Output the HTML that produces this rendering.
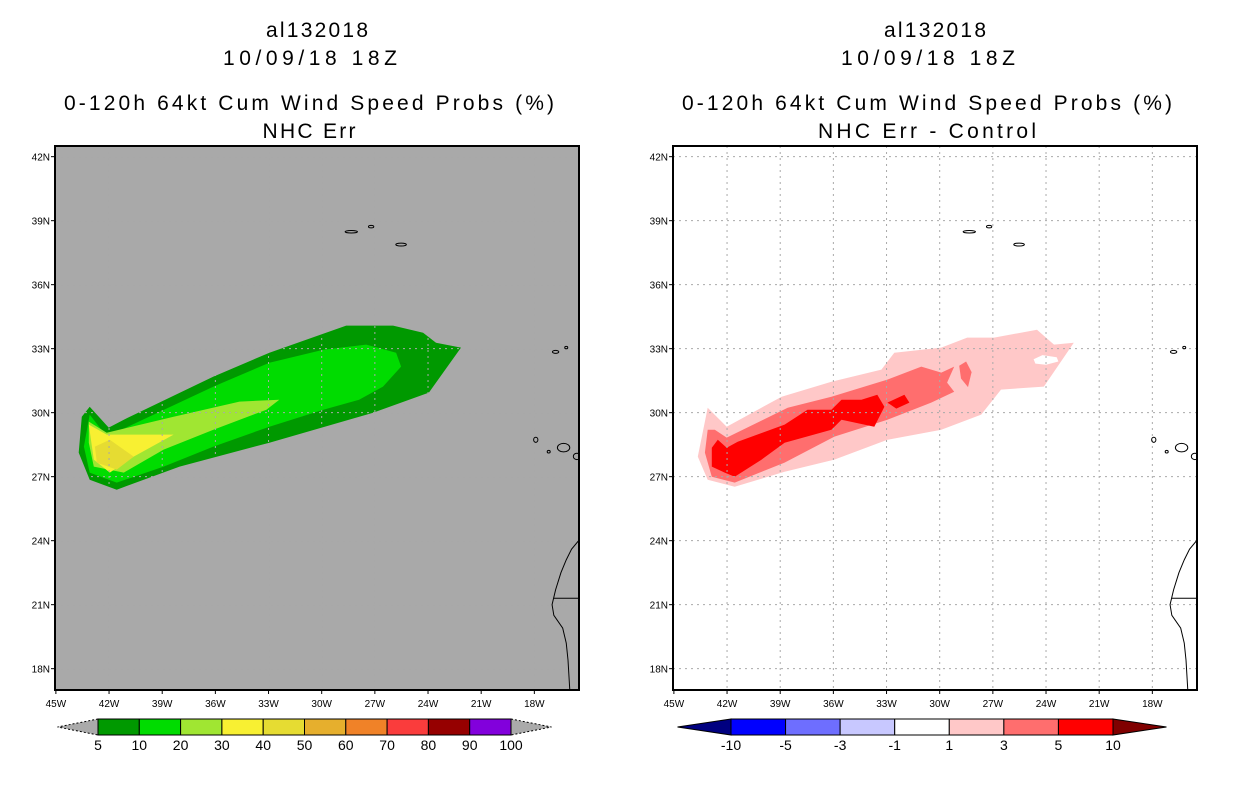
<!DOCTYPE html>
<html><head><meta charset="utf-8"><style>
body{margin:0;background:#fff}
svg{display:block}
text{font-family:"Liberation Sans",sans-serif}
</style></head><body>
<svg id="s" width="1236" height="800" viewBox="0 0 1236 800">
<g font-size="21" text-anchor="middle" fill="#000">
<text x="317" y="37" textLength="102" lengthAdjust="spacing">al132018</text>
<text x="310" y="65" textLength="174" lengthAdjust="spacing">10/09/18 18Z</text>
<text x="309" y="110" textLength="490" lengthAdjust="spacing">0-120h 64kt Cum Wind Speed Probs (%)</text>
<text x="309" y="138" textLength="93" lengthAdjust="spacing">NHC Err</text>
</g>
<g font-size="21" text-anchor="middle" fill="#000">
<text x="935" y="37" textLength="102" lengthAdjust="spacing">al132018</text>
<text x="928" y="65" textLength="174" lengthAdjust="spacing">10/09/18 18Z</text>
<text x="927" y="110" textLength="490" lengthAdjust="spacing">0-120h 64kt Cum Wind Speed Probs (%)</text>
<text x="927" y="138" textLength="218" lengthAdjust="spacing">NHC Err - Control</text>
</g>
</svg>
<script>
// axis ticks
const lonTicks=[-45,-42,-39,-36,-33,-30,-27,-24,-21,-18];
const latTicks=[42,39,36,33,30,27,24,21,18];
const lonLabels=["45W","42W","39W","36W","33W","30W","27W","24W","21W","18W"];
const latLabels=["42N","39N","36N","33N","30N","27N","24N","21N","18N"];
// left contours (lon,lat)
const p5=[[-43.09,30.28],[-42.02,29.30],[-41.17,29.67],[-36.11,31.69],[-32.95,32.81],[-28.62,34.08],[-25.97,34.08],[-24.28,33.75],[-23.55,33.28],[-22.14,33.05],[-23.95,30.94],[-27.10,30.0],[-32.95,28.59],[-38.02,27.47],[-41.57,26.39],[-43.09,26.86],[-43.71,28.13],[-43.54,29.81]];
const p10=[[-43.09,29.91],[-42.13,28.88],[-36.11,31.22],[-32.95,32.34],[-29.91,32.95],[-27.49,33.19],[-25.80,32.81],[-25.52,32.16],[-26.54,31.22],[-27.89,30.61],[-29.91,30.14],[-32.95,29.34],[-36.11,28.41],[-38.92,27.47],[-41.57,26.72],[-43.09,27.19],[-43.42,28.41]];
const p20=[[-43.14,29.58],[-42.13,29.06],[-38.36,29.81],[-34.64,30.52],[-32.39,30.61],[-33.12,30.14],[-36.11,29.20],[-38.92,28.27],[-41.17,27.19],[-42.86,27.47],[-43.14,28.59]];
const p30=[[-43.14,29.44],[-42.13,28.97],[-38.36,28.97],[-40.61,27.94],[-41.96,27.19],[-42.86,27.80]];
const p40=[[-42.80,28.41],[-41.96,28.73],[-40.61,27.94],[-41.57,27.33],[-42.69,27.66]];
// right difference contours
const d1=[[-43.65,27.94],[-43.09,30.23],[-42.02,29.34],[-38.92,30.75],[-36.11,31.45],[-33.29,32.02],[-32.56,32.81],[-29.91,33.05],[-28.45,33.52],[-26.93,33.52],[-24.51,33.89],[-23.55,33.19],[-22.43,33.28],[-24.12,31.22],[-26.54,31.08],[-27.66,29.91],[-29.91,29.20],[-32.95,28.73],[-35.94,27.80],[-38.75,27.23],[-41.57,26.53],[-43.09,26.86]];
const d3=[[-43.25,28.13],[-43.09,29.20],[-42.69,29.20],[-42.02,28.83],[-38.58,30.23],[-36.11,30.75],[-32.95,31.55],[-31.04,32.16],[-29.91,31.88],[-29.18,32.16],[-29.58,31.41],[-29.18,30.98],[-30.48,30.47],[-32.95,29.67],[-35.94,28.88],[-38.75,27.66],[-41.57,26.72],[-42.86,27.0]];
const d10=[[-42.86,27.47],[-42.86,28.36],[-42.52,28.73],[-42.02,28.36],[-41.40,28.64],[-38.75,29.44],[-37.46,30.14],[-36.11,30.14],[-35.54,30.61],[-34.42,30.61],[-33.52,30.84],[-33.12,30.28],[-33.69,29.34],[-35.54,29.67],[-36.11,29.20],[-38.75,28.59],[-40.05,27.80],[-41.57,27.0],[-42.13,27.19]];
const d10b=[[-32.95,30.47],[-31.99,30.84],[-31.71,30.47],[-32.45,30.19]];
const d3blob=[[-28.51,32.4],[-28.2,31.9],[-28.4,31.2],[-28.8,31.6],[-28.9,32.2]];
const d1hole=[[-24.7,32.5],[-24.2,32.7],[-23.4,32.6],[-23.3,32.4],[-24.0,32.25],[-24.6,32.3]];
// coastlines
const africa=[[-15.3,24.1],[-15.5,24.0],[-15.9,23.6],[-16.2,23.1],[-16.5,22.5],[-16.8,21.7],[-17.0,21.0],[-16.9,20.5],[-16.4,19.9],[-16.2,19.2],[-16.1,18.4],[-16.0,17.0]];
const border=[[-16.9,21.3],[-15.3,21.3]];
const islands=[[-28.33,38.48,0.35,0.06],[-27.21,38.72,0.15,0.06],[-25.52,37.88,0.3,0.07],[-17.92,28.73,0.12,0.12],[-17.19,28.17,0.08,0.06],[-16.35,28.36,0.35,0.2],[-15.6,27.95,0.2,0.15],[-16.8,32.85,0.18,0.07],[-16.2,33.05,0.03,0.03]];
const leftLevels=["5","10","20","30","40","50","60","70","80","90","100"];
const leftColors=["#009900","#00dc00","#a0e632","#f8f032","#e6dc32","#e6af2d","#f08228","#fa3c3c","#960000","#8200dc"];
const rightLevels=["-10","-5","-3","-1","1","3","5","10"];
const rightColors=["#0000ff","#6e6eff","#c8c8ff","#ffffff","#ffc8c8","#ff6e6e","#ff0000"];

const NS="http://www.w3.org/2000/svg";
const svg=document.getElementById('s');
function mk(tag,attrs,parent){const e=document.createElementNS(NS,tag);for(const k in attrs)e.setAttribute(k,attrs[k]);(parent||svg).appendChild(e);return e;}
function panel(x0,name){
  const W=524,H=544,y0=146;
  const lonMin=-45.05,lonMax=-15.48,latMax=42.5,latMin=17.0;
  const X=l=>x0+(l-lonMin)/(lonMax-lonMin)*W;
  const Y=l=>y0+(latMax-l)/(latMax-latMin)*H;
  const g=mk('g',{});
  
  
  const cp=mk('clipPath',{id:name+'c'},g);mk('rect',{x:x0,y:y0,width:W,height:H},cp);
  const inner=mk('g',{'clip-path':'url(#'+name+'c)'},g);
  const poly=(pts,fill,nm)=>{const p=mk('polygon',{points:pts.map(q=>X(q[0]).toFixed(1)+','+Y(q[1]).toFixed(1)).join(' '),fill:fill},inner);return p;};
  return {g,inner,X,Y,poly,x0,y0,W,H};
}
function grid(P,color){
  const gr=mk('g',{stroke:color,'stroke-width':1,'stroke-dasharray':'2,4'},P.inner);
  
  
  lonTicks.slice(1).forEach(l=>mk('line',{x1:P.X(l),x2:P.X(l),y1:P.y0,y2:P.y0+P.H},gr));
  latTicks.forEach(l=>mk('line',{y1:P.Y(l),y2:P.Y(l),x1:P.x0,x2:P.x0+P.W},gr));
}
function coast(P){
  const c=mk('g',{fill:'none',stroke:'#000','stroke-width':1},P.inner);
  
  
  mk('polyline',{points:africa.map(q=>P.X(q[0])+','+P.Y(q[1])).join(' ')},c);
  mk('polyline',{points:border.map(q=>P.X(q[0])+','+P.Y(q[1])).join(' ')},c);
  islands.forEach(i=>{mk('ellipse',{cx:P.X(i[0]),cy:P.Y(i[1]),rx:Math.max(1.5,i[2]*17.7),ry:Math.max(1.2,i[3]*21.3)},c);});
}
function axes(P){
  mk('rect',{x:P.x0,y:P.y0,width:P.W,height:P.H,fill:'none',stroke:'#000','stroke-width':2},P.g);
  lonTicks.forEach((l,i)=>{const x=P.X(l);mk('line',{x1:x,x2:x,y1:P.y0+P.H,y2:P.y0+P.H+4,stroke:'#000'},P.g);
    const t=mk('text',{x:x,y:P.y0+P.H+17,'font-size':10,'text-anchor':'middle'},P.g);t.textContent=lonLabels[i];
    
    });
  latTicks.forEach((l,i)=>{const y=P.Y(l);mk('line',{x1:P.x0-4,x2:P.x0,y1:y,y2:y,stroke:'#000'},P.g);
    const t=mk('text',{x:P.x0-5,y:y+4,'font-size':10,'text-anchor':'end'},P.g);t.textContent=latLabels[i];
    
    });
}
function colorbar(name,x1,x2,y,levels,colors,lc,rc){
  const g=mk('g',{});
  
  
  const n=colors.length,bw=(x2-x1)/n,h=16,tip=bw*0.98;
  mk('polygon',{points:`${x1},${y} ${x1-tip},${y+h/2} ${x1},${y+h}`,fill:lc,stroke:'#000','stroke-dasharray':lc=='#aaaaaa'?'2,2':'none'},g);
  mk('polygon',{points:`${x2},${y} ${x2+tip},${y+h/2} ${x2},${y+h}`,fill:rc,stroke:'#000','stroke-dasharray':rc=='#aaaaaa'?'2,2':'none'},g);
  colors.forEach((c,i)=>{const r=mk('rect',{x:x1+i*bw,y:y,width:bw,height:h,fill:c,stroke:'#000'},g);
    
    });
  levels.forEach((l,i)=>{const t=mk('text',{x:x1+i*bw,y:y+h+15,'font-size':14,'text-anchor':'middle'},g);t.textContent=l;
    
    });
}
// left panel
const L=panel(55,'left');
mk('rect',{x:L.x0,y:L.y0,width:L.W,height:L.H,fill:'#a9a9a9'},L.inner);
L.poly(p5,leftColors[0],'prob-5');L.poly(p10,leftColors[1],'prob-10');L.poly(p20,leftColors[2],'prob-20');L.poly(p30,leftColors[3],'prob-30');L.poly(p40,leftColors[4],'prob-40');
grid(L,'#a9a9a9');coast(L);axes(L);
// right panel
const R=panel(673,'right');
mk('rect',{x:R.x0,y:R.y0,width:R.W,height:R.H,fill:'#fff'},R.inner);
R.poly(d1,rightColors[4],'diff-1');R.poly(d1hole,'#fff','diff-1-hole');R.poly(d3,rightColors[5],'diff-3');R.poly(d3blob,rightColors[5],'diff-3-blob');R.poly(d10,rightColors[6],'diff-10');R.poly(d10b,rightColors[6],'diff-10-blob');
grid(R,'#aaaaaa');coast(R);axes(R);
colorbar('left-colorbar',98,511,719,leftLevels,leftColors,'#aaaaaa','#aaaaaa');
colorbar('right-colorbar',731,1113,719,rightLevels,rightColors,'#000080','#800000');
</script>
</body></html>
